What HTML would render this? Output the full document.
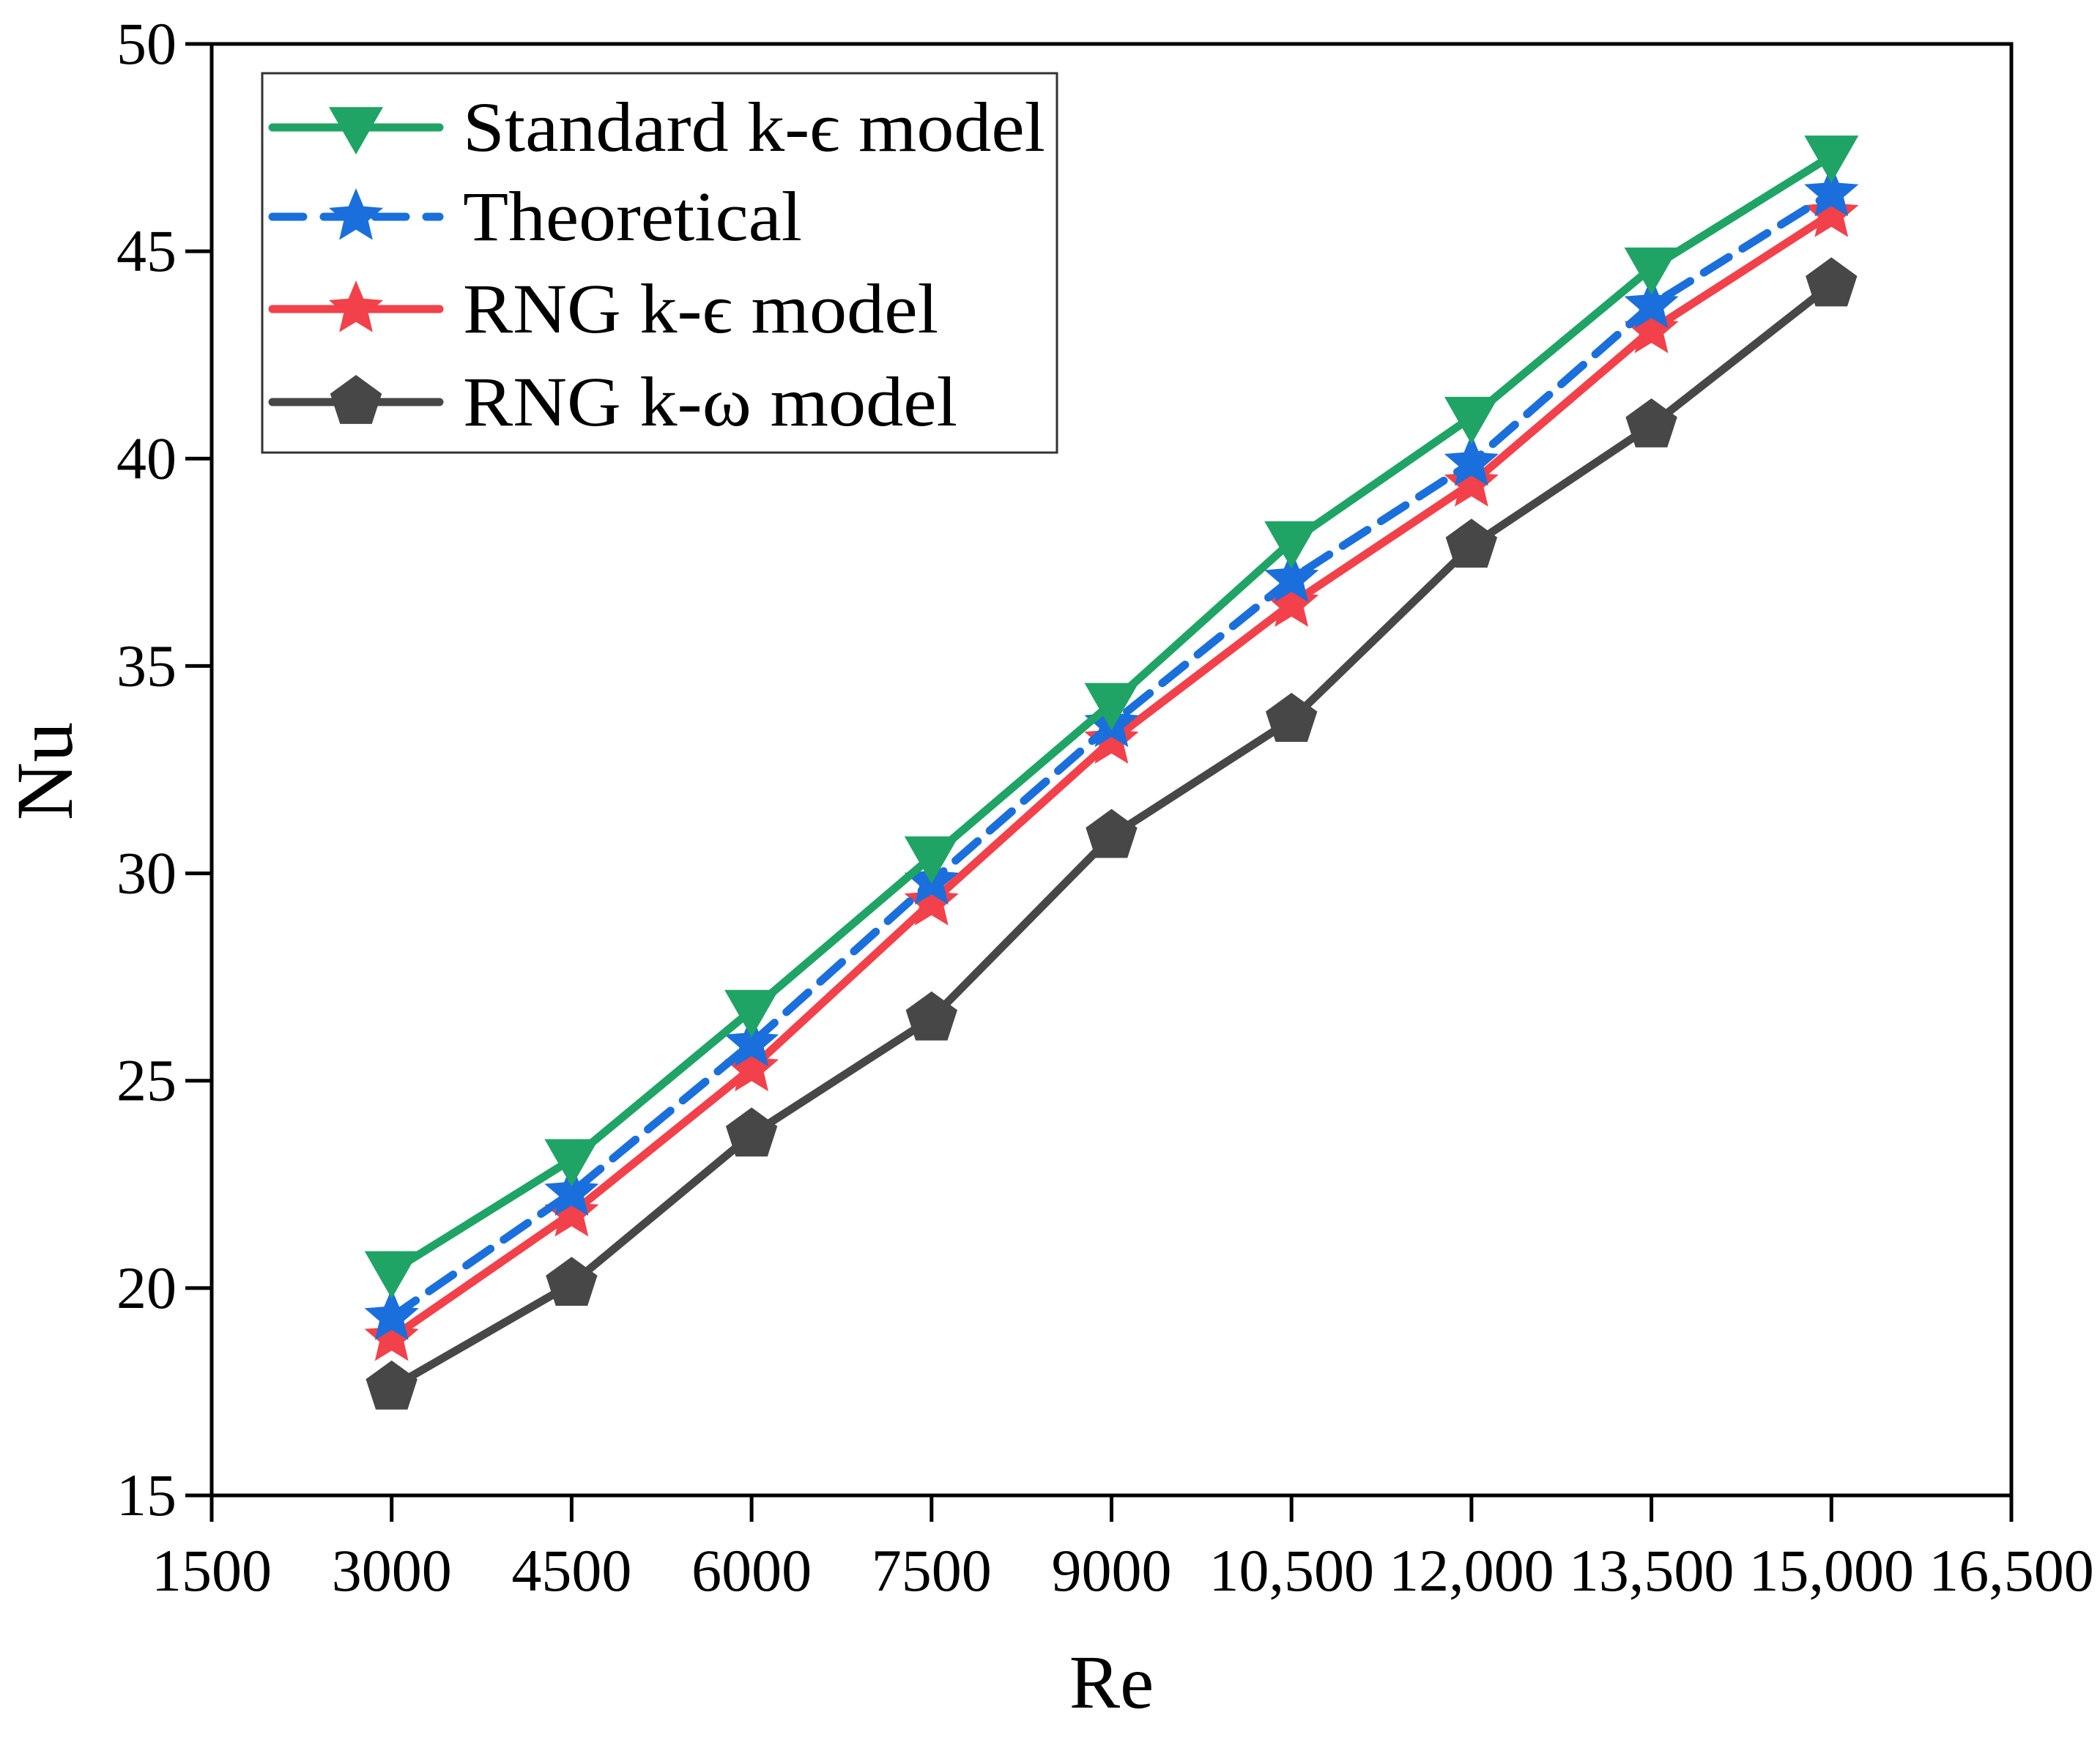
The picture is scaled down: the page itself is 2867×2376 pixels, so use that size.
<!DOCTYPE html>
<html><head><meta charset="utf-8"><style>
html,body{margin:0;padding:0;background:#fff;}
svg{display:block;font-family:"Liberation Serif",serif;}
</style></head><body>
<svg id="chart" width="2867" height="2376" viewBox="0 0 2867 2376" xmlns="http://www.w3.org/2000/svg">
<g id="axes"></g><g id="series"></g><g id="legend"></g>
</svg>
<script>
const categories=[3000,4500,6000,7500,9000,10500,12000,13500,15000];
const standardKe=[20.4,23.1,26.7,30.4,34.1,38.0,41.0,44.6,47.3];
const theoretical=[19.3,22.3,25.9,29.8,33.6,37.1,39.9,43.7,46.4];
const rngKe=[18.8,21.8,25.3,29.3,33.2,36.5,39.4,43.1,45.9];
const rngKw=[17.6,20.1,23.7,26.5,30.9,33.7,37.9,40.8,44.2];
const xTicks=[1500,3000,4500,6000,7500,9000,10500,12000,13500,15000,16500];
const xTickLabels=["1500","3000","4500","6000","7500","9000","10,500","12,000","13,500","15,000","16,500"];
const yTicks=[15,20,25,30,35,40,45,50];
const seriesNames=["Standard k-\u03f5 model","Theoretical","RNG k-\u03f5 model","RNG k-\u03c9 model"];
const legendWidths=[795,463,649,675];

const NS="http://www.w3.org/2000/svg";
const L=289,R=2746,T=60,B=2042;
const xs=v=>L+(v-1500)/(16500-1500)*(R-L);
const ys=v=>B-(v-15)/(50-15)*(B-T);
function mk(tag,attrs,parent){const e=document.createElementNS(NS,tag);for(const k in attrs)e.setAttribute(k,attrs[k]);parent.appendChild(e);return e;}
const axes=document.getElementById('axes'),series=document.getElementById('series'),legend=document.getElementById('legend');

let frame=mk('rect',{x:L,y:T,width:R-L,height:B-T,fill:'none',stroke:'#000','stroke-width':5},axes);


xTicks.forEach((v,i)=>{
 let t=mk('line',{x1:xs(v),x2:xs(v),y1:B,y2:B+36,stroke:'#000','stroke-width':5},axes);
 
 
 let tx=mk('text',{x:xs(v),y:B+130,'font-size':82,'text-anchor':'middle',fill:'#000'},axes);
 tx.textContent=xTickLabels[i];
 
 
});
yTicks.forEach(v=>{
 let t=mk('line',{x1:L-36,x2:L,y1:ys(v),y2:ys(v),stroke:'#000','stroke-width':5},axes);
 
 
 let tx=mk('text',{x:L-48,y:ys(v)+27,'font-size':82,'text-anchor':'end',fill:'#000'},axes);
 tx.textContent=String(v);
 
 
});
let xt=mk('text',{x:(L+R)/2,y:2332,'font-size':104,'text-anchor':'middle',fill:'#000'},axes);
xt.textContent='Re';


let yt=mk('text',{x:0,y:0,'font-size':110,'text-anchor':'middle',fill:'#000',transform:'translate(98,1053) rotate(-90)'},axes);
yt.textContent='Nu';



function star(cx,cy,r){let p=[];for(let i=0;i<10;i++){const a=-Math.PI/2+i*Math.PI/5;const rr=i%2?r*0.45:r;p.push((cx+rr*Math.cos(a)).toFixed(1)+','+(cy+rr*Math.sin(a)).toFixed(1));}return p.join(' ');}
function tri(cx,cy,r){return `${cx-r},${cy-r*0.75} ${cx+r},${cy-r*0.75} ${cx},${cy+r*1.0}`;}
function pent(cx,cy,r){let p=[];for(let i=0;i<5;i++){const a=-Math.PI/2+i*2*Math.PI/5;p.push((cx+r*Math.cos(a)).toFixed(1)+','+(cy+r*Math.sin(a)).toFixed(1));}return p.join(' ');}

const defs=[
 {data:standardKe,color:'#1fa465',dash:null,shape:tri,size:37,name:'standard-ke'},
 {data:theoretical,color:'#1a6fdc',dash:'40 22',shape:star,size:39,name:'theoretical'},
 {data:rngKe,color:'#f2414a',dash:null,shape:star,size:39,name:'rng-ke'},
 {data:rngKw,color:'#474747',dash:null,shape:pent,size:37,name:'rng-kw'}
];
[3,2,1,0].forEach(si=>{
 const d=defs[si];
 const pts=d.data.map((v,i)=>xs(categories[i])+','+ys(v)).join(' ');
 let pl=mk('polyline',{points:pts,fill:'none',stroke:d.color,'stroke-width':11,'stroke-linejoin':'round','stroke-linecap':'round'},series);
 if(d.dash)pl.setAttribute('stroke-dasharray',d.dash);
 
 
 d.data.forEach((v,i)=>{
  let m=mk('polygon',{points:d.shape(xs(categories[i]),ys(v),d.size),fill:d.color},series);
  
  
 });
});

let lb=mk('rect',{x:358,y:100,width:1085,height:518,fill:'#fff',stroke:'#333','stroke-width':3},legend);


const ly=[174,296,422,549];
defs.forEach((d,i)=>{
 let g=mk('g',{},legend);
 
 
 let ln=mk('line',{x1:372,x2:600,y1:ly[i],y2:ly[i],stroke:d.color,'stroke-width':11,'stroke-linecap':'round'},g);
 if(d.dash)ln.setAttribute('stroke-dasharray','42 28');
 mk('polygon',{points:d.shape(486,ly[i],d.size),fill:d.color},g);
 let t=mk('text',{x:632,y:ly[i]+32,'font-size':96,fill:'#000',textLength:legendWidths[i],lengthAdjust:'spacingAndGlyphs'},g);
 t.textContent=seriesNames[i];
});
</script>
</body></html>
